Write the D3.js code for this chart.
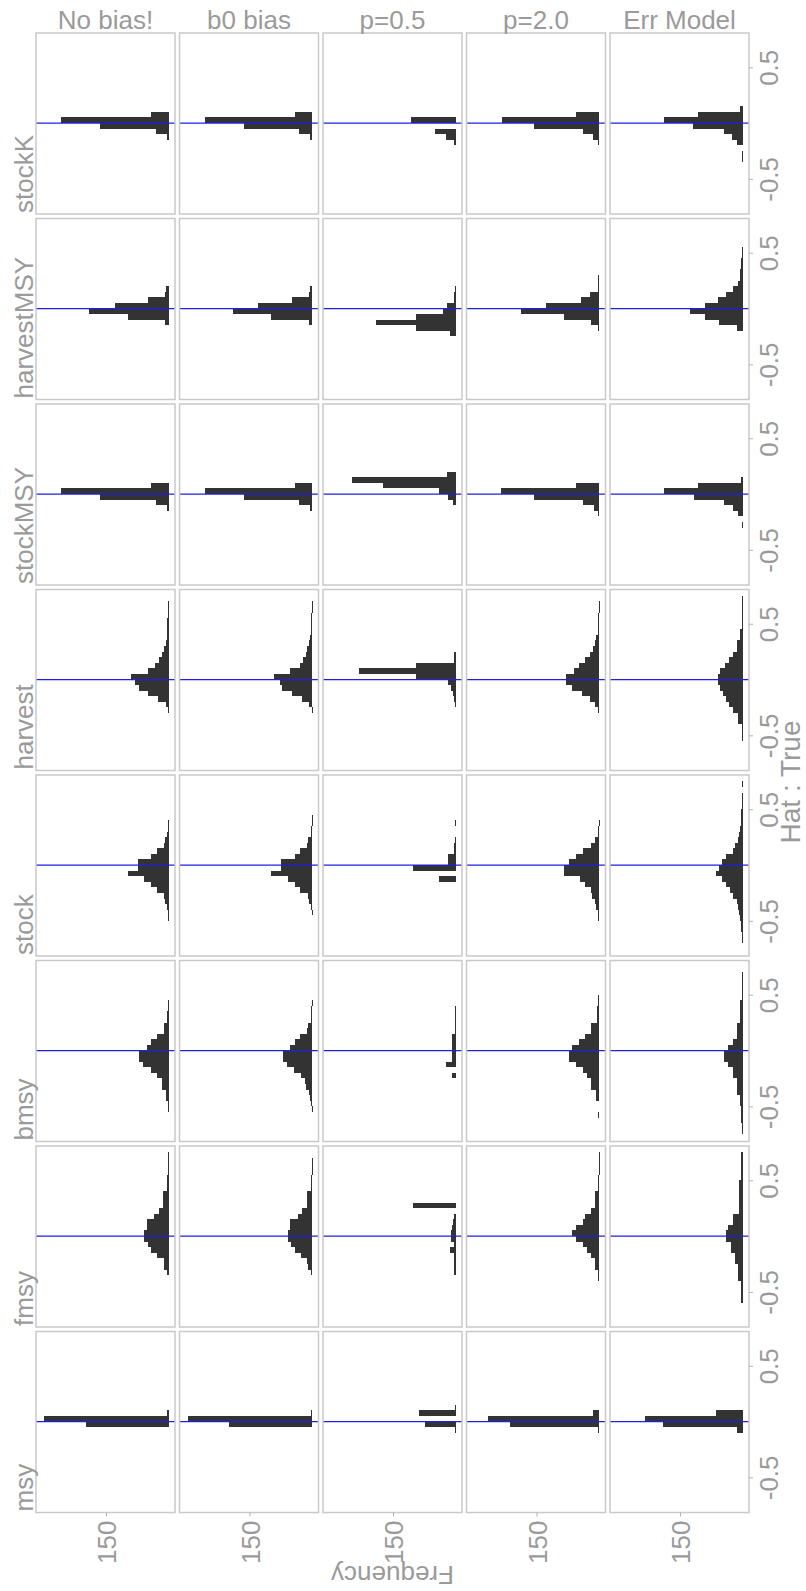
<!DOCTYPE html>
<html>
<head>
<meta charset="utf-8">
<script src="https://cdn.jsdelivr.net/npm/d3@7"></script>
<style>
  body { margin: 0; background: #fff; }
  text { font-family: "Liberation Sans", Arial, sans-serif; fill: #9a9a9a; }
  .axis path { display: none; }
  .axis line { stroke: #b3b3b3; }
  .bar { shape-rendering: crispEdges; }
</style>
</head>
<body>
<div id="chart"></div>
<script>
// facet columns and rows
var scenarios = ["No bias!", "b0 bias", "p=0.5", "p=2.0", "Err Model"];
var variables = ["stockK", "harvestMSY", "stockMSY", "harvest", "stock", "bmsy", "fmsy", "msy"];
var binWidth = 0.05;
var yTicks = [-0.5, 0.5];
var xTicks = [150];

// histogram counts per scenario: [lower edge of first bin, counts going up]
var stockK = [
  [-0.15, [5, 31, 164, 257, 43]],
  [-0.15, [6, 31, 164, 257, 42]],
  [-0.20, [4, 22, 50, 0, 107]],
  [-0.20, [2, 14, 39, 155, 233, 55]],
  [-0.35, [1, 1, 0, 13, 26, 45, 118, 188, 108, 6]]
];
var harvestMSY = [
  [-0.15, [8, 98, 191, 129, 50, 8, 6]],
  [-0.15, [8, 98, 190, 130, 49, 8, 5]],
  [-0.25, [14, 94, 191, 94, 31, 20, 4, 3, 2]],
  [-0.20, [3, 20, 84, 186, 127, 43, 22, 3, 3, 2]],
  [-0.20, [14, 56, 91, 126, 91, 60, 40, 23, 12, 6, 6, 3, 3, 1, 1]]
];
var stockMSY = [
  [-0.15, [5, 31, 164, 257, 43]],
  [-0.15, [6, 31, 164, 257, 42]],
  [-0.10, [7, 18, 40, 173, 249, 21]],
  [-0.20, [3, 12, 39, 156, 235, 55]],
  [-0.30, [1, 0, 12, 23, 45, 117, 188, 106, 4]]
];
var harvest = [
  [-0.30, [2, 6, 25, 50, 70, 80, 90, 50, 32, 22, 17, 12, 6, 5, 4, 3, 3, 2, 1, 1]],
  [-0.30, [1, 7, 24, 48, 72, 78, 92, 52, 30, 22, 16, 12, 7, 5, 4, 3, 2, 2, 1, 1]],
  [-0.25, [2, 3, 6, 12, 18, 94, 231, 94, 3, 3]],
  [-0.30, [3, 10, 22, 40, 64, 79, 79, 60, 49, 34, 22, 15, 10, 8, 4, 3, 2, 2, 1, 1]],
  [-0.55, [2, 2, 2, 12, 12, 22, 32, 39, 47, 55, 60, 60, 55, 43, 32, 22, 14, 14, 6, 6, 2, 2, 2, 2, 2, 2]]
];
var stock = [
  [-0.50, [1, 2, 3, 10, 11, 28, 42, 58, 98, 74, 74, 42, 28, 12, 10, 3, 2, 1]],
  [-0.45, [1, 3, 8, 11, 28, 42, 58, 98, 74, 74, 42, 28, 12, 10, 3, 2, 1, 1]],
  [-0.15, [39, 0, 103, 18, 18, 4, 3, 2, 0, 0, 2]],
  [-0.50, [2, 3, 8, 10, 18, 20, 34, 45, 84, 84, 73, 56, 39, 20, 10, 2, 2, 1]],
  [-0.70, [1, 2, 3, 4, 6, 10, 12, 14, 23, 30, 40, 49, 64, 56, 49, 40, 23, 18, 12, 10, 6, 4, 4, 3, 2, 2, 1, 0, 1]]
];
var bmsy = [
  [-0.55, [1, 1, 6, 6, 17, 17, 28, 42, 61, 70, 70, 53, 42, 28, 11, 11, 3, 3, 2, 1]],
  [-0.55, [1, 2, 5, 7, 16, 18, 27, 44, 60, 71, 69, 54, 41, 28, 12, 10, 3, 3, 2, 1]],
  [-0.25, [10, 0, 23, 10, 10, 10, 10, 10, 2, 2, 2, 2, 2]],
  [-0.60, [2, 0, 0, 7, 7, 20, 20, 29, 39, 56, 73, 73, 64, 49, 34, 20, 20, 6, 6, 6, 3, 3]],
  [-0.75, [2, 2, 3, 4, 5, 6, 6, 14, 14, 14, 23, 23, 34, 45, 45, 34, 23, 14, 14, 14, 6, 6, 6, 6, 2, 2, 2, 2, 2]]
];
var fmsy = [
  [-0.35, [4, 11, 11, 28, 42, 50, 58, 58, 53, 53, 35, 24, 13, 13, 13, 3, 3, 3, 1, 1, 1, 1]],
  [-0.35, [4, 10, 12, 27, 42, 51, 57, 59, 52, 54, 34, 25, 13, 12, 13, 3, 3, 2, 1, 1, 1, 0]],
  [-0.35, [3, 3, 4, 4, 14, 3, 12, 12, 8, 6, 4, 0, 103]],
  [-0.40, [3, 3, 10, 10, 20, 29, 39, 56, 64, 56, 39, 34, 20, 10, 10, 10, 3, 3, 3, 1, 1, 1, 1]],
  [-0.60, [4, 4, 4, 4, 12, 12, 12, 18, 18, 29, 29, 40, 40, 34, 23, 23, 10, 10, 10, 10, 10, 10, 3, 3, 3, 3, 3]]
];
var msy = [
  [-0.05, [198, 298, 4]],
  [-0.05, [199, 297, 3]],
  [-0.10, [2, 73, 0, 88, 2]],
  [-0.10, [2, 213, 267, 14]],
  [-0.10, [13, 190, 234, 64]]
];

var hist = {stockK: stockK, harvestMSY: harvestMSY, stockMSY: stockMSY, harvest: harvest,
            stock: stock, bmsy: bmsy, fmsy: fmsy, msy: msy};

var width = 806, height = 1591;

var svg = d3.select("#chart")
            .append("svg")
            .attr("width", width)
            .attr("height", height);

svg.append("rect").attr("width", width).attr("height", height).attr("fill", "#fff");

// panel grid
var colScale = d3.scaleBand()
                 .domain(scenarios)
                 .range([36, 749])
                 .paddingInner(4.5 / 143.5);
var rowScale = d3.scaleBand()
                 .domain(variables)
                 .range([33, 1512.5])
                 .paddingInner(4.5 / 185.5);

var pw = colScale.bandwidth();
var ph = rowScale.bandwidth();

// Frequency runs right-to-left, value (Hat : True) runs bottom-to-top
var xScale = d3.scaleLinear().domain([-15.1, 317.5]).range([pw, 0]);
var yScale = d3.scaleLinear().domain([-0.815, 0.807]).range([ph, 0]);

function toBins(entry) {
  var k0 = Math.round(entry[0] / binWidth);
  return entry[1].map(function(n, i) {
    return {x0: (k0 + i) * binWidth, x1: (k0 + i + 1) * binWidth, n: n};
  });
}

variables.forEach(function(v) {
  scenarios.forEach(function(s, j) {
    var bins = toBins(hist[v][j]).filter(function(b) { return b.n > 0; });
    var g = svg.append("g")
               .attr("transform", "translate(" + colScale(s) + "," + rowScale(v) + ")");

    g.selectAll("rect.bar")
      .data(bins)
      .enter()
      .append("rect")
      .attr("class", "bar")
      .attr("x", function(d) { return xScale(d.n); })
      .attr("y", function(d) { return yScale(d.x1); })
      .attr("width", function(d) { return Math.max(1, xScale(0) - xScale(d.n)); })
      .attr("height", function(d) { return yScale(d.x0) - yScale(d.x1); })
      .attr("fill", "#333333");

    // truth line
    g.append("line")
      .attr("x1", 0).attr("x2", pw)
      .attr("y1", yScale(0)).attr("y2", yScale(0))
      .attr("stroke", "#1f1fe6")
      .attr("stroke-width", 1.2);

    g.append("rect")
      .attr("width", pw).attr("height", ph)
      .attr("fill", "none")
      .attr("stroke", "#c9c9c9")
      .attr("stroke-width", 1.5);
  });

  // right axis (value)
  var ax = svg.append("g")
              .attr("class", "axis")
              .attr("transform", "translate(749," + rowScale(v) + ")")
              .call(d3.axisRight(yScale).tickValues(yTicks).tickSize(4)
                      .tickFormat(function(d) { return String(d); }));
  ax.selectAll("text")
    .attr("x", null).attr("dy", null)
    .attr("transform", "translate(29,0) rotate(-90)")
    .attr("text-anchor", "middle")
    .style("font-size", "26px")
    .attr("fill", "#9a9a9a");

  // row strip label
  svg.append("text")
     .attr("transform", "translate(33," + (rowScale(v) + ph - 1) + ") rotate(-90)")
     .attr("text-anchor", "start")
     .style("font-size", "26px")
     .text(v);
});

scenarios.forEach(function(s) {
  // column strip label
  svg.append("text")
     .attr("x", colScale(s) + pw / 2)
     .attr("y", 29)
     .attr("text-anchor", "middle")
     .style("font-size", "26px")
     .text(s);

  // bottom axis (frequency)
  var bx = svg.append("g")
              .attr("class", "axis")
              .attr("transform", "translate(" + colScale(s) + ",1512.5)")
              .call(d3.axisBottom(xScale).tickValues(xTicks).tickSize(4));
  bx.selectAll("text")
    .attr("y", null).attr("dy", null)
    .attr("transform", "translate(9.5,8) rotate(-90)")
    .attr("text-anchor", "end")
    .style("font-size", "26px")
    .attr("fill", "#9a9a9a");
});

// axis titles
svg.append("text")
   .attr("transform", "translate(392.5,1566) rotate(180)")
   .attr("text-anchor", "middle")
   .style("font-size", "26px")
   .text("Frequency");

svg.append("text")
   .attr("transform", "translate(800,782) rotate(-90)")
   .attr("text-anchor", "middle")
   .style("font-size", "28px")
   .text("Hat : True");
</script>
</body>
</html>
